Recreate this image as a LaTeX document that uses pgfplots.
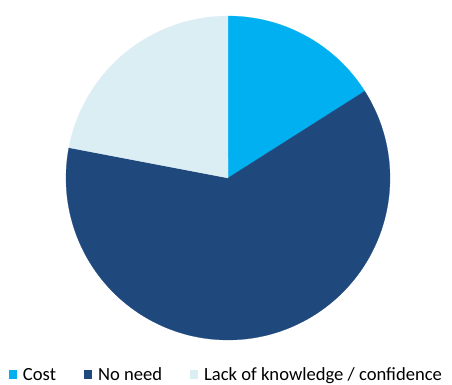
\documentclass[border=0pt]{standalone}
\usepackage{pgfplots}
\usepackage{pgfplotstable}
\pgfplotsset{compat=1.18}
\usepackage{fontspec}
\setmainfont{Carlito}
\definecolor{costc}{HTML}{00B0F0}
\definecolor{needc}{HTML}{1F497D}
\definecolor{lackc}{HTML}{DAEEF3}

% Share of respondents by reason (percent)
\pgfplotstableread{
share
16
62
22
}\reasons

\begin{document}
\begin{tikzpicture}
\pgfplotstablegetelem{0}{share}\of\reasons \let\vcost\pgfplotsretval
\pgfplotstablegetelem{1}{share}\of\reasons \let\vneed\pgfplotsretval
\pgfplotstablegetelem{2}{share}\of\reasons \let\vlack\pgfplotsretval
\pgfmathsetmacro{\total}{\vcost+\vneed+\vlack}
% slices run clockwise from twelve o'clock
\pgfmathsetmacro{\aA}{90}
\pgfmathsetmacro{\aB}{90-(\vcost/\total)*360}
\pgfmathsetmacro{\aC}{\aB-(\vneed/\total)*360}
\pgfmathsetmacro{\aD}{\aC-(\vlack/\total)*360}
\useasboundingbox (0,0) rectangle (452pt,385pt);
\begin{axis}[
  at={(0,0)}, anchor=south west,
  scale only axis, width=452pt, height=385pt,
  xmin=0, xmax=452, ymin=0, ymax=385,
  hide axis, clip=false,
  legend columns=3,
  legend style={draw=none, fill=none, inner sep=0pt, outer sep=0pt,
    at={(axis cs:9,1.5)}, anchor=south west,
    font=\fontsize{18.6}{21}\selectfont,
    nodes={inner sep=1pt},
    /tikz/every odd column/.append style={column sep=5pt},
    /tikz/every even column/.append style={column sep=27pt}},
  legend image code/.code={\path[#1,draw=none] (0pt,-4pt) rectangle (8pt,5pt);},
]
\addplot[fill=costc, draw=costc, line width=0.2pt, domain=\aB:\aA, samples=120]
  ({228+162*cos(x)},{207+162*sin(x)}) -- (axis cs:228,207) -- cycle;
\addlegendentry{Cost}
\addplot[fill=needc, draw=needc, line width=0.2pt, domain=\aC:\aB, samples=240]
  ({228+162*cos(x)},{207+162*sin(x)}) -- (axis cs:228,207) -- cycle;
\addlegendentry{No need}
\addplot[fill=lackc, draw=lackc, line width=0.2pt, domain=\aD:\aC, samples=120]
  ({228+162*cos(x)},{207+162*sin(x)}) -- (axis cs:228,207) -- cycle;
\addlegendentry{Lack of knowledge / confidence}
\end{axis}
\end{tikzpicture}
\end{document}
